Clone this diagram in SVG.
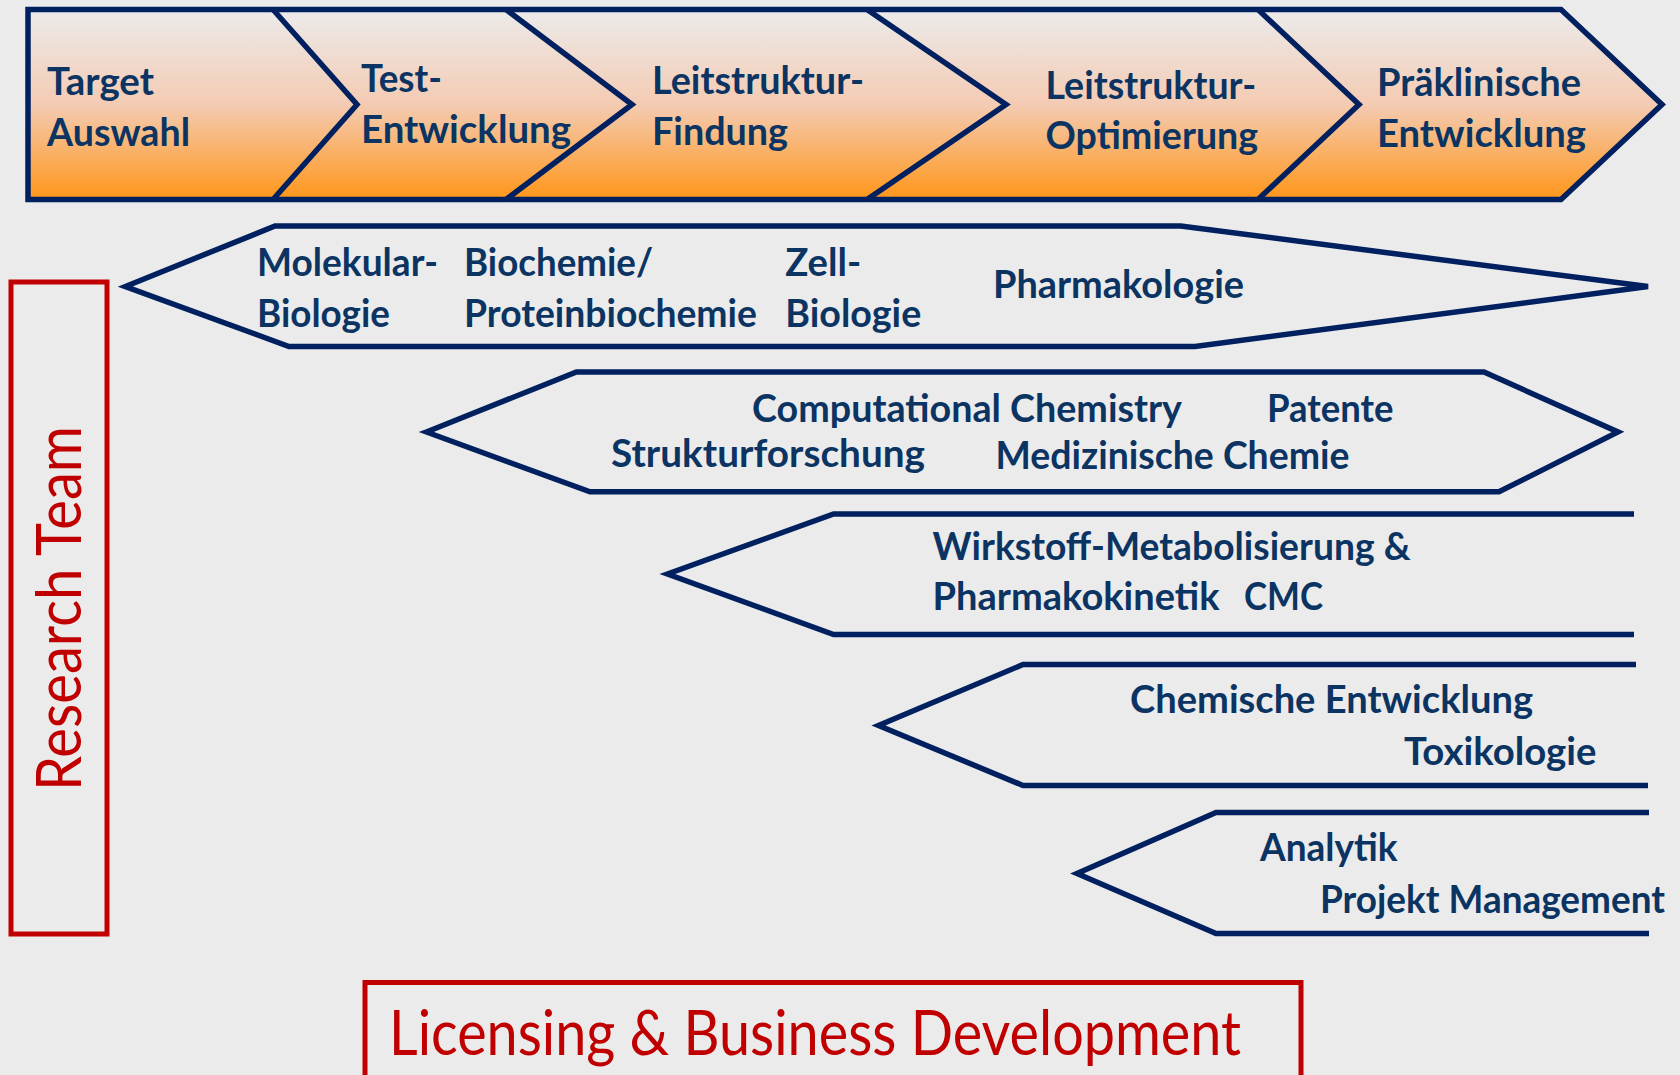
<svg xmlns="http://www.w3.org/2000/svg" width="1680" height="1075" viewBox="0 0 1680 1075">
<defs>
<linearGradient id="og" x1="0" y1="0" x2="0" y2="1">
<stop offset="0" stop-color="#ECEBEB"/>
<stop offset="0.5" stop-color="#F4CBB3"/>
<stop offset="1" stop-color="#FF9619"/>
</linearGradient>
<style>
.ln{fill:none;stroke:#00205F;stroke-width:5.5;stroke-linejoin:miter;}
.banner{fill:url(#og);stroke:#00205F;stroke-width:5.5;}
.bt{font-family:Lato,"Liberation Sans",sans-serif;font-weight:700;font-size:39px;fill:#0B3463;}
.red{fill:none;stroke:#C00000;stroke-width:5;}
.rt{font-family:Lato,"Liberation Sans",sans-serif;font-weight:400;font-size:62px;fill:#C00000;}
</style>
</defs>
<rect width="1680" height="1075" fill="#EBEBEB"/>

<g id="phases">
<polygon class="banner" points="28,9.5 1561,9.5 1662,104.5 1561,199.5 28,199.5"/>
<polyline class="ln" points="273,9.5 357,104.5 273,199.5"/>
<polyline class="ln" points="506,9.5 632,104.5 506,199.5"/>
<polyline class="ln" points="867,9.5 1006,104.5 867,199.5"/>
<polyline class="ln" points="1258,9.5 1359,104.5 1258,199.5"/>
</g>
<g id="phase-target">
<text class="bt" x="47" y="95" textLength="107" lengthAdjust="spacingAndGlyphs">Target</text>
<text class="bt" x="47" y="145.7" textLength="143" lengthAdjust="spacingAndGlyphs">Auswahl</text>
</g>
<g id="phase-test">
<text class="bt" x="361" y="91.5" textLength="81" lengthAdjust="spacingAndGlyphs">Test-</text>
<text class="bt" x="361" y="143" textLength="210" lengthAdjust="spacingAndGlyphs">Entwicklung</text>
</g>
<g id="phase-findung">
<text class="bt" x="652" y="94" textLength="212" lengthAdjust="spacingAndGlyphs">Leitstruktur-</text>
<text class="bt" x="652" y="144.5" textLength="136" lengthAdjust="spacingAndGlyphs">Findung</text>
</g>
<g id="phase-optimierung">
<text class="bt" x="1045.6" y="99" textLength="210.6" lengthAdjust="spacingAndGlyphs">Leitstruktur-</text>
<text class="bt" x="1045.6" y="148.5" textLength="212.5" lengthAdjust="spacingAndGlyphs">Optimierung</text>
</g>
<g id="phase-praeklinik">
<text class="bt" x="1377" y="96" textLength="204" lengthAdjust="spacingAndGlyphs">Präklinische</text>
<text class="bt" x="1377" y="147" textLength="209" lengthAdjust="spacingAndGlyphs">Entwicklung</text>
</g>

<g id="band1">
<polygon class="ln" points="125.4,286.5 275,226 1180.7,226 1648,286.5 1195,346.5 289,346.5"/>
<text class="bt" x="257" y="275.5" textLength="181" lengthAdjust="spacingAndGlyphs">Molekular-</text>
<text class="bt" x="257" y="326.5" textLength="133" lengthAdjust="spacingAndGlyphs">Biologie</text>
<text class="bt" x="464" y="275.5" textLength="189" lengthAdjust="spacingAndGlyphs">Biochemie/</text>
<text class="bt" x="464" y="326.5" textLength="293" lengthAdjust="spacingAndGlyphs">Proteinbiochemie</text>
<text class="bt" x="785.3" y="275.5" textLength="76" lengthAdjust="spacingAndGlyphs">Zell-</text>
<text class="bt" x="785.3" y="326.5" textLength="136" lengthAdjust="spacingAndGlyphs">Biologie</text>
<text class="bt" x="993" y="298" textLength="251" lengthAdjust="spacingAndGlyphs">Pharmakologie</text>
</g>

<g id="band2">
<polygon class="ln" points="426.4,432 576.4,372 1484,372 1618,432 1499,491.8 590,491.8"/>
<text class="bt" x="752" y="421.5" textLength="430" lengthAdjust="spacingAndGlyphs">Computational Chemistry</text>
<text class="bt" x="1267" y="421.5" textLength="126.5" lengthAdjust="spacingAndGlyphs">Patente</text>
<text class="bt" x="611" y="466.5" textLength="314" lengthAdjust="spacingAndGlyphs">Strukturforschung</text>
<text class="bt" x="995.5" y="468.5" textLength="354" lengthAdjust="spacingAndGlyphs">Medizinische Chemie</text>
</g>

<g id="band3">
<polyline class="ln" points="1634,514 833.6,514 667.5,574 833.6,634.5 1634,634.5"/>
<text class="bt" x="932.6" y="559.5" textLength="478" lengthAdjust="spacingAndGlyphs">Wirkstoff-Metabolisierung &amp;</text>
<text class="bt" x="932.6" y="609.5" textLength="287" lengthAdjust="spacingAndGlyphs">Pharmakokinetik</text>
<text class="bt" x="1244" y="609.5" textLength="79" lengthAdjust="spacingAndGlyphs">CMC</text>
</g>

<g id="band4">
<polyline class="ln" points="1636,664.5 1023,664.5 878.5,725.5 1023,785.5 1648,785.5"/>
<text class="bt" x="1130" y="712.5" textLength="403" lengthAdjust="spacingAndGlyphs">Chemische Entwicklung</text>
<text class="bt" x="1404" y="764.5" textLength="192.5" lengthAdjust="spacingAndGlyphs">Toxikologie</text>
</g>

<g id="band5">
<polyline class="ln" points="1649,812.5 1216,812.5 1077,873.5 1216,933.5 1649,933.5"/>
<text class="bt" x="1260" y="860.5" textLength="137.5" lengthAdjust="spacingAndGlyphs">Analytik</text>
<text class="bt" x="1320" y="912.5" textLength="345" lengthAdjust="spacingAndGlyphs">Projekt Management</text>
</g>

<g id="research-team">
<rect class="red" x="11" y="282" width="96" height="652"/>
<text class="rt" transform="translate(81,791) rotate(-90)" textLength="365" lengthAdjust="spacingAndGlyphs">Research Team</text>
</g>

<g id="licensing">
<rect class="red" x="365" y="982.5" width="936" height="120"/>
<text class="rt" x="389" y="1054.5" textLength="852" lengthAdjust="spacingAndGlyphs">Licensing &amp; Business Development</text>
</g>
</svg>
